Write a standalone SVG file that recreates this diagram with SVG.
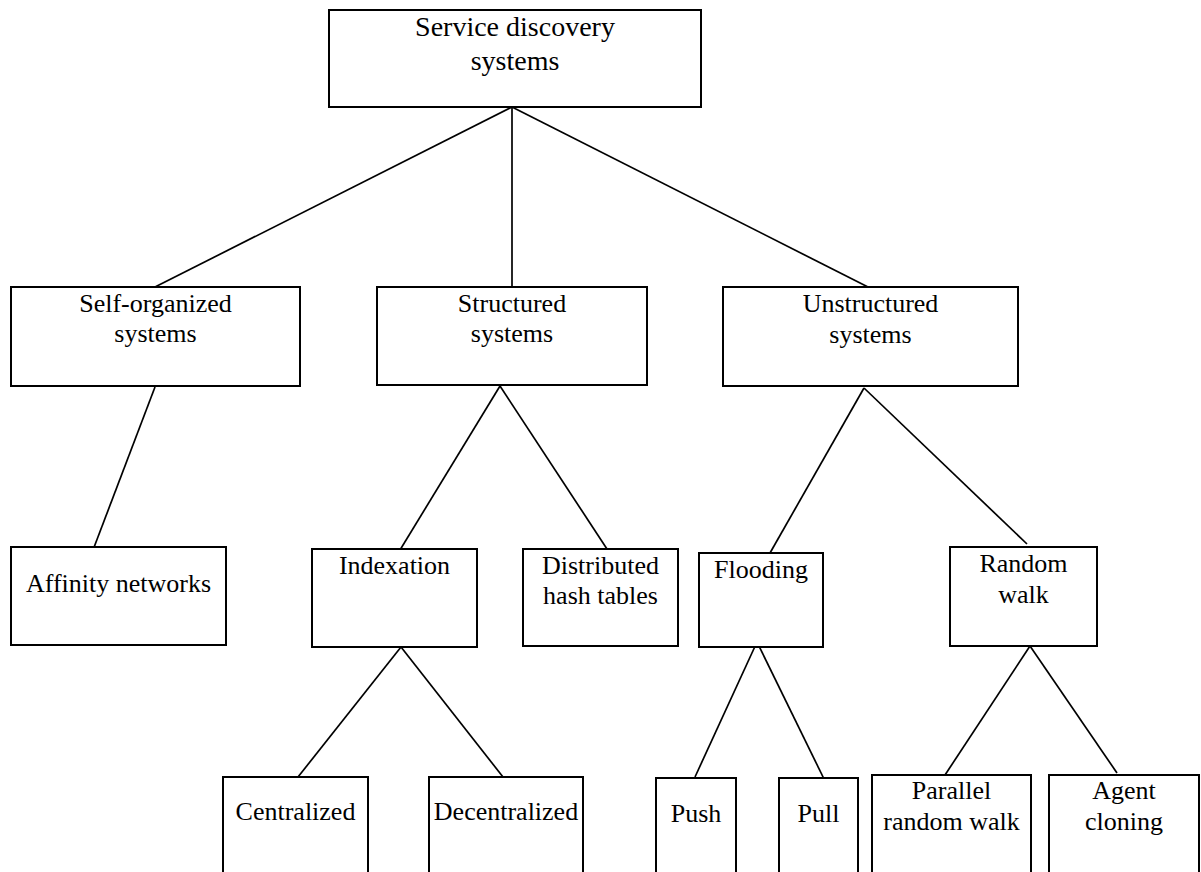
<svg xmlns="http://www.w3.org/2000/svg" width="1201" height="872" viewBox="0 0 1201 872">
<style>
.box{fill:#fff;stroke:#000;stroke-width:2}
.t{font-family:"Liberation Serif","Times New Roman",serif;font-size:26px;fill:#000;text-anchor:middle}
.t0{font-size:28px}
.c{stroke:#000;stroke-width:1.7;fill:none}
</style>
<rect width="1201" height="872" fill="#fff"/>
<g id="connectors">
<line class="c" x1="512" y1="107" x2="155" y2="287"/>
<line class="c" x1="512" y1="107" x2="512" y2="287"/>
<line class="c" x1="512" y1="107" x2="868" y2="287"/>
<line class="c" x1="155" y1="387" x2="93" y2="550"/>
<line class="c" x1="500" y1="386" x2="400" y2="550"/>
<line class="c" x1="500" y1="386" x2="607" y2="549"/>
<line class="c" x1="864" y1="388" x2="770" y2="553"/>
<line class="c" x1="864" y1="388" x2="1027" y2="544"/>
<line class="c" x1="401" y1="647" x2="298" y2="777"/>
<line class="c" x1="401" y1="647" x2="503" y2="777"/>
<line class="c" x1="757" y1="642" x2="695" y2="777"/>
<line class="c" x1="757" y1="642" x2="825" y2="781"/>
<line class="c" x1="1030" y1="646" x2="945" y2="775"/>
<line class="c" x1="1030" y1="646" x2="1117" y2="773"/>
</g>
<g id="root">
<rect class="box" x="329" y="10" width="372" height="97"/>
<text class="t t0" x="515" y="36">Service discovery</text>
<text class="t t0" x="515" y="70">systems</text>
</g>
<g id="self-organized">
<rect class="box" x="11" y="287" width="289" height="99"/>
<text class="t" x="155.5" y="312">Self-organized</text>
<text class="t" x="155.5" y="342">systems</text>
</g>
<g id="structured">
<rect class="box" x="377" y="287" width="270" height="98"/>
<text class="t" x="512" y="312">Structured</text>
<text class="t" x="512" y="342">systems</text>
</g>
<g id="unstructured">
<rect class="box" x="723" y="287" width="295" height="99"/>
<text class="t" x="870.5" y="312">Unstructured</text>
<text class="t" x="870.5" y="343">systems</text>
</g>
<g id="affinity">
<rect class="box" x="11" y="547" width="215" height="98"/>
<text class="t" x="118.5" y="592">Affinity networks</text>
</g>
<g id="indexation">
<rect class="box" x="312" y="549" width="165" height="98"/>
<text class="t" x="394.5" y="574">Indexation</text>
</g>
<g id="dht">
<rect class="box" x="523" y="549" width="155" height="97"/>
<text class="t" x="600.5" y="574">Distributed</text>
<text class="t" x="600.5" y="604">hash tables</text>
</g>
<g id="flooding">
<rect class="box" x="699" y="553" width="124" height="94"/>
<text class="t" x="761" y="578">Flooding</text>
</g>
<g id="random-walk">
<rect class="box" x="950" y="547" width="147" height="99"/>
<text class="t" x="1023.5" y="572">Random</text>
<text class="t" x="1023.5" y="603">walk</text>
</g>
<g id="centralized">
<rect class="box" x="223" y="777" width="145" height="110"/>
<text class="t" x="295.5" y="820">Centralized</text>
</g>
<g id="decentralized">
<rect class="box" x="429" y="777" width="154" height="110"/>
<text class="t" x="506" y="820">Decentralized</text>
</g>
<g id="push">
<rect class="box" x="656" y="778" width="80" height="110"/>
<text class="t" x="696" y="822">Push</text>
</g>
<g id="pull">
<rect class="box" x="779" y="778" width="79" height="110"/>
<text class="t" x="818.5" y="822">Pull</text>
</g>
<g id="parallel">
<rect class="box" x="872" y="775" width="159" height="110"/>
<text class="t" x="951.5" y="799">Parallel</text>
<text class="t" x="951.5" y="830">random walk</text>
</g>
<g id="agent">
<rect class="box" x="1049" y="775" width="150" height="110"/>
<text class="t" x="1124" y="799">Agent</text>
<text class="t" x="1124" y="830">cloning</text>
</g>
</svg>
